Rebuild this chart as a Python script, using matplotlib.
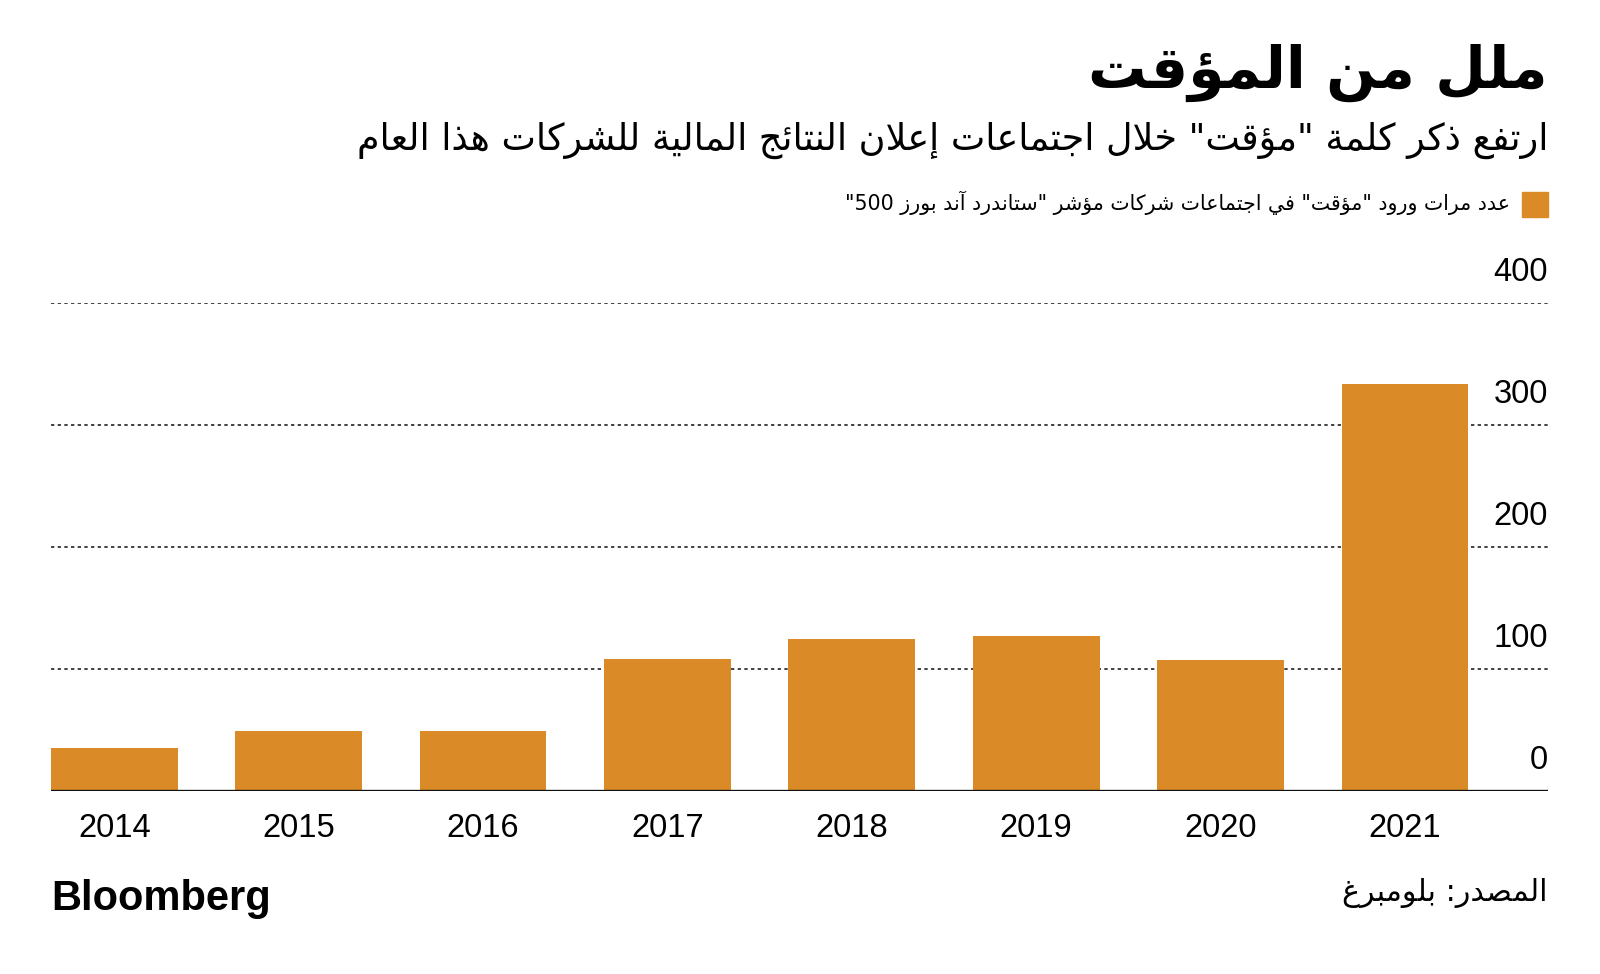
import re
import matplotlib
matplotlib.use("Agg")
import matplotlib.pyplot as plt

# ---------------- data ----------------
years = ["2014", "2015", "2016", "2017", "2018", "2019", "2020", "2021"]
counts = [35, 49, 49, 108, 125, 127, 107, 334]
y_ticks = [0, 100, 200, 300, 400]

title = "ملل من المؤقت"
subtitle = 'ارتفع ذكر كلمة "مؤقت" خلال اجتماعات إعلان النتائج المالية للشركات هذا العام'
legend_label = 'عدد مرات ورود "مؤقت" في اجتماعات شركات مؤشر "ستاندرد آند بورز 500"'
source = "المصدر: بلومبرغ"
brand = "Bloomberg"

BAR_COLOR = "#DA8A26"

# ---------------- minimal Arabic shaping (contextual forms + RTL order) ----------------
_TABLE = {
    0x0621: (0xFE80, "U"), 0x0622: (0xFE81, "R"), 0x0623: (0xFE83, "R"),
    0x0624: (0xFE85, "R"), 0x0625: (0xFE87, "R"), 0x0626: (0xFE89, "D"),
    0x0627: (0xFE8D, "R"), 0x0628: (0xFE8F, "D"), 0x0629: (0xFE93, "R"),
    0x062A: (0xFE95, "D"), 0x062B: (0xFE99, "D"), 0x062C: (0xFE9D, "D"),
    0x062D: (0xFEA1, "D"), 0x062E: (0xFEA5, "D"), 0x062F: (0xFEA9, "R"),
    0x0630: (0xFEAB, "R"), 0x0631: (0xFEAD, "R"), 0x0632: (0xFEAF, "R"),
    0x0633: (0xFEB1, "D"), 0x0634: (0xFEB5, "D"), 0x0635: (0xFEB9, "D"),
    0x0636: (0xFEBD, "D"), 0x0637: (0xFEC1, "D"), 0x0638: (0xFEC5, "D"),
    0x0639: (0xFEC9, "D"), 0x063A: (0xFECD, "D"), 0x0641: (0xFED1, "D"),
    0x0642: (0xFED5, "D"), 0x0643: (0xFED9, "D"), 0x0644: (0xFEDD, "D"),
    0x0645: (0xFEE1, "D"), 0x0646: (0xFEE5, "D"), 0x0647: (0xFEE9, "D"),
    0x0648: (0xFEED, "R"), 0x0649: (0xFEEF, "R"), 0x064A: (0xFEF1, "D"),
}
_LAMALEF = {0x0622: 0xFEF5, 0x0623: 0xFEF7, 0x0625: 0xFEF9, 0x0627: 0xFEFB}


def shape(text):
    toks = []
    i = 0
    while i < len(text):
        c = ord(text[i])
        if c == 0x0644 and i + 1 < len(text) and ord(text[i + 1]) in _LAMALEF:
            toks.append((_LAMALEF[ord(text[i + 1])], "L"))
            i += 2
            continue
        if c in _TABLE:
            toks.append(_TABLE[c])
        else:
            toks.append((text[i], None))
        i += 1
    out = []
    for k, (base, typ) in enumerate(toks):
        if typ is None:
            out.append(base)
            continue
        if typ == "U":
            out.append(chr(base))
            continue
        prev_t = toks[k - 1][1] if k > 0 else None
        next_t = toks[k + 1][1] if k + 1 < len(toks) else None
        jp = prev_t == "D"
        jn = typ == "D" and next_t in ("R", "D", "L")
        if typ == "D":
            idx = (3 if jn else 1) if jp else (2 if jn else 0)
        else:
            idx = 1 if jp else 0
        out.append(chr(base + idx))
    s = "".join(out)[::-1]
    s = re.sub(r"[0-9A-Za-z.]+", lambda m: m.group(0)[::-1], s)
    return s


ARABIC = ["DejaVu Sans"]
NUM = ["Liberation Sans", "DejaVu Sans"]

# ---------------- figure ----------------
W, H = 1600, 974
fig = plt.figure(figsize=(W / 100, H / 100), dpi=100)
fig.patch.set_facecolor("white")

ax_left, ax_right = 51 / W, 1548 / W
ax_bottom, ax_top = 1 - 791 / H, 1 - 303 / H
ax = fig.add_axes([ax_left, ax_bottom, ax_right - ax_left, ax_top - ax_bottom])

x = list(range(len(years)))
bar_w = 0.687
for v in y_ticks[1:]:
    ax.axhline(v, color="#222222", lw=1.2, ls=(0, (2.0, 2.0)), zorder=0)
ax.bar(x, counts, width=bar_w, color=BAR_COLOR, zorder=2)
ax.axhline(0, color="#111111", lw=2.4, zorder=3)

ax.set_xlim(-bar_w / 2, 7.776)
ax.set_ylim(0, 400)
for s in ax.spines.values():
    s.set_visible(False)
ax.set_yticks([])
ax.set_xticks(x)
ax.set_xticklabels(years, fontsize=23.5, family=NUM)
ax.tick_params(axis="x", length=0, pad=16)

for v in y_ticks:
    ax.annotate(str(v), xy=(1.0, v), xycoords=("axes fraction", "data"),
                xytext=(0, 15.5), textcoords="offset points",
                ha="right", va="baseline", fontsize=23.5, family=NUM, color="black")

# ---------------- texts ----------------
xr = 1548 / W
fig.text(xr, 1 - 88 / H, shape(title), ha="right", va="baseline",
         fontsize=42, fontweight="bold", family=ARABIC, color="black")
fig.text(xr, 1 - 150 / H, shape(subtitle), ha="right", va="baseline",
         fontsize=26.3, family=ARABIC, color="black")

# legend
fig.patches.append(plt.Rectangle((1522 / W, 1 - 217 / H), 26 / W, 25 / H,
                                 transform=fig.transFigure, color=BAR_COLOR))
fig.text(1510 / W, 1 - 210 / H, shape(legend_label), ha="right", va="baseline",
         fontsize=14.8, family=ARABIC, color="black")

fig.text(xr, 1 - 901 / H, shape(source), ha="right", va="baseline",
         fontsize=21.7, family=ARABIC, color="black")
fig.text(51 / W, 1 - 910 / H, brand, ha="left", va="baseline",
         fontsize=30, fontweight="bold", family=NUM, color="black")

fig.savefig("out.png", dpi=100, facecolor="white")
